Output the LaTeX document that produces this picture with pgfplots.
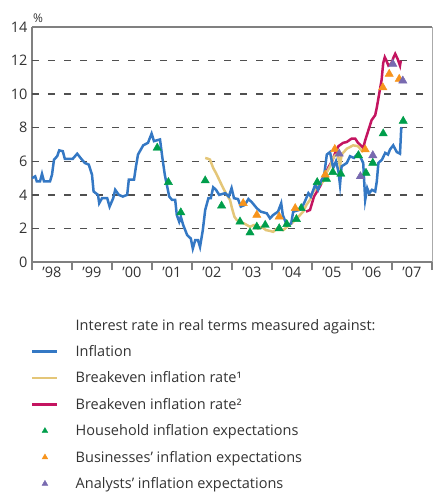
\documentclass[border=0pt]{standalone}
\usepackage{pgfplots}
\pgfplotsset{compat=1.18}
\usepackage{fontspec}
\setmainfont{Open Sans}
\definecolor{cblue}{RGB}{52,120,196}
\definecolor{cyellow}{RGB}{228,198,120}
\definecolor{cmag}{RGB}{196,20,96}
\definecolor{cgreen}{RGB}{0,158,75}
\definecolor{corange}{RGB}{247,148,29}
\definecolor{cpurple}{RGB}{120,106,176}
\definecolor{cgrid}{RGB}{80,80,80}
\definecolor{caxis}{RGB}{128,128,128}
\definecolor{cright}{RGB}{170,170,170}
\pgfplotsset{
  lineleg/.style={legend image code/.code={\draw[##1] (0pt,0pt) -- (25pt,0pt);}},
  markleg/.style={legend image code/.code={\draw[##1, mark size=3.3pt] plot coordinates {(12.5pt,0pt)};}},
  gridline/.style={cgrid, line width=1.3pt, dash pattern=on 7pt off 9pt, forget plot},
}
\begin{document}
\begin{tikzpicture}
\path[use as bounding box] (0pt,0pt) rectangle (433pt,492pt);
\begin{axis}[
  at={(32pt,230pt)}, anchor=south west,
  scale only axis, width=400pt, height=235pt,
  xmin=1998, xmax=2008, ymin=0, ymax=14,
  axis x line*=bottom, axis y line*=left,
  axis line style={caxis, line width=1.5pt, -},
  ytick={0,2,...,14},
  xtick={1998.5,1999.5,...,2007.5},
  xticklabels={’98,’99,’00,’01,’02,’03,’04,’05,’06,’07},
  minor xtick={1998,1999,...,2008},
  major tick length=0pt, minor tick length=8pt, tick align=outside,
  minor tick style={caxis, line width=1.2pt},
  tick label style={font=\fontsize{14.5}{16}\selectfont, text=black!80},
  /pgf/number format/assume math mode=true,
  yticklabel style={xshift=-1pt},
  xticklabel style={yshift=-1pt},
  clip=false,
  legend cell align=left,
  legend style={draw=none, fill=none, at={(axis description cs:-0.01,-0.225)}, anchor=north west,
    font=\fontsize{14.5}{17}\selectfont, text=black!80,
    row sep=9.8pt,
    /tikz/every odd column/.append style={column sep=15pt}},
]
\node[anchor=south west, inner sep=0pt, font=\fontsize{12}{14}\selectfont, text=black!80] at ([xshift=1pt,yshift=4pt]rel axis cs:0,1) {\%};

% dashed grid lines and the top and right frame
\addplot[gridline] coordinates {(1998,2)(2008,2)};
\addplot[gridline] coordinates {(1998,4)(2008,4)};
\addplot[gridline] coordinates {(1998,6)(2008,6)};
\addplot[gridline] coordinates {(1998,8)(2008,8)};
\addplot[gridline] coordinates {(1998,10)(2008,10)};
\addplot[gridline] coordinates {(1998,12)(2008,12)};
\addplot[caxis, line width=1.5pt, forget plot] coordinates {(1998,14)(2008,14)};
\addplot[cright, line width=1pt, forget plot] coordinates {(2008,0)(2008,14)};

\addlegendimage{empty legend}
\addlegendentry{Interest rate in real terms measured against:}

\addplot[cmag, line width=2.5pt, forget plot] coordinates {
(2004.85,3.0)(2004.95,3.1)(2005.05,3.9)(2005.20,4.5)(2005.30,5.0)(2005.40,5.6)(2005.50,6.0)
(2005.58,6.5)(2005.66,6.9)(2005.78,7.1)(2005.87,7.15)(2005.99,7.35)(2006.08,7.35)(2006.15,7.1)
(2006.22,6.95)(2006.28,6.8)(2006.33,7.25)(2006.41,7.85)(2006.49,8.45)(2006.58,8.75)(2006.62,9.2)
(2006.66,9.75)(2006.70,10.3)(2006.74,10.85)(2006.78,11.85)(2006.82,12.2)(2006.86,12.0)(2006.91,11.7)
(2006.98,11.8)(2007.04,12.2)(2007.08,12.4)(2007.14,12.1)(2007.20,11.7)(2007.22,12.0)
};

\addplot[cyellow, line width=2.5pt, forget plot] coordinates {
(2002.33,6.2)(2002.40,6.15)(2002.45,6.1)(2002.53,5.6)(2002.60,5.3)(2002.66,5.0)(2002.72,4.7)
(2002.78,4.4)(2002.87,4.0)(2002.95,3.7)(2003.00,3.2)(2003.06,2.7)(2003.12,2.5)(2003.20,2.4)
(2003.30,2.3)(2003.45,2.1)(2003.55,2.2)(2003.65,2.0)(2003.74,2.1)(2003.85,1.9)(2003.95,1.85)
(2004.03,1.8)(2004.13,2.0)(2004.28,1.9)(2004.38,2.1)(2004.49,2.3)(2004.58,2.5)(2004.70,2.8)
(2004.78,3.0)(2004.86,3.4)(2004.95,3.7)(2005.03,4.2)(2005.15,4.5)(2005.28,4.8)(2005.36,5.3)
(2005.45,5.7)(2005.53,6.2)(2005.58,6.35)(2005.64,6.45)(2005.70,5.7)(2005.74,6.4)(2005.87,6.75)
(2005.95,6.85)(2006.03,6.95)(2006.15,6.9)(2006.22,6.7)(2006.28,6.55)
};

\addplot[cblue, line width=2.5pt, forget plot] coordinates {
(1998.00,5.0)(1998.08,5.1)(1998.12,4.8)(1998.20,4.8)(1998.25,5.25)(1998.30,4.8)(1998.45,4.8)
(1998.50,5.2)(1998.55,6.1)(1998.63,6.3)(1998.68,6.65)(1998.77,6.6)(1998.82,6.15)(1999.02,6.15)
(1999.13,6.45)(1999.23,6.15)(1999.32,5.9)(1999.42,5.8)(1999.50,5.2)(1999.54,4.2)(1999.65,4.0)
(1999.68,3.5)(1999.75,3.8)(1999.88,3.8)(1999.94,3.3)(2000.03,3.8)(2000.08,4.3)(2000.17,4.0)
(2000.27,3.9)(2000.38,4.0)(2000.42,4.9)(2000.55,4.9)(2000.60,5.7)(2000.65,6.4)(2000.78,6.95)
(2000.90,7.1)(2000.99,7.65)(2001.05,7.2)(2001.20,7.3)(2001.26,6.2)(2001.32,5.2)(2001.43,3.9)
(2001.50,3.7)(2001.58,3.7)(2001.62,2.8)(2001.68,2.4)(2001.72,2.7)(2001.78,2.2)(2001.88,1.6)
(2001.97,1.4)(2002.02,0.8)(2002.08,1.3)(2002.15,1.3)(2002.20,0.9)(2002.27,1.9)(2002.33,3.1)
(2002.41,3.8)(2002.47,3.8)(2002.53,4.45)(2002.60,4.3)(2002.68,4.0)(2002.83,4.1)(2002.92,3.9)
(2002.99,4.4)(2003.05,3.8)(2003.15,3.75)(2003.22,3.3)(2003.32,3.4)(2003.41,3.75)(2003.50,3.55)
(2003.62,3.2)(2003.72,3.0)(2003.87,2.9)(2003.95,2.6)(2004.03,2.8)(2004.15,3.0)(2004.23,3.5)
(2004.27,2.8)(2004.37,2.2)(2004.48,2.3)(2004.53,3.0)(2004.68,3.1)(2004.74,3.2)(2004.82,3.6)
(2004.91,4.1)(2004.97,3.9)(2005.08,4.6)(2005.15,4.3)(2005.24,4.9)(2005.30,5.1)(2005.37,6.4)
(2005.45,6.55)(2005.53,5.6)(2005.60,6.0)(2005.66,5.4)(2005.70,4.6)(2005.74,5.7)(2005.87,5.9)
(2005.95,6.3)(2006.05,6.2)(2006.16,6.5)(2006.22,6.2)(2006.28,5.9)(2006.33,3.7)(2006.38,4.4)
(2006.43,4.1)(2006.50,4.3)(2006.58,4.2)(2006.62,4.8)(2006.66,5.9)(2006.75,6.1)(2006.83,6.5)
(2006.90,6.4)(2006.95,6.7)(2007.03,6.95)(2007.12,6.55)(2007.20,6.45)(2007.23,7.95)(2007.25,8.0)
};

\addlegendimage{cblue, line width=2.5pt, lineleg}
\addlegendentry{Inflation}
\addlegendimage{cyellow, line width=2.5pt, lineleg}
\addlegendentry{Breakeven inflation rate¹}
\addlegendimage{cmag, line width=2.5pt, lineleg}
\addlegendentry{Breakeven inflation rate²}

\addplot[only marks, mark=triangle*, mark size=4.8pt, color=cgreen, markleg] coordinates {
(2001.13,6.8)(2001.41,4.75)(2001.72,2.95)(2002.33,4.85)(2002.74,3.35)(2003.20,2.4)(2003.45,1.75)
(2003.62,2.1)(2003.83,2.2)(2004.18,2.0)(2004.37,2.25)(2004.61,2.55)(2004.73,3.2)(2005.13,4.75)
(2005.36,4.95)(2005.52,5.35)(2005.72,5.25)(2006.16,6.35)(2006.35,5.3)(2006.52,5.9)(2006.78,7.65)
(2007.28,8.4)
};
\addlegendentry{Household inflation expectations}

\addplot[only marks, mark=triangle*, mark size=4.8pt, color=corange, markleg] coordinates {
(2003.28,3.5)(2003.62,2.8)(2004.18,2.7)(2004.58,3.2)(2005.33,5.2)(2005.57,6.72)(2006.33,6.7)
(2006.77,10.4)(2006.93,11.2)(2007.18,10.9)
};
\addlegendentry{Businesses' inflation expectations}

\addplot[only marks, mark=triangle*, mark size=4.8pt, color=cpurple, markleg] coordinates {
(2005.68,6.45)(2006.21,5.1)(2006.52,6.35)(2007.02,11.8)(2007.27,10.8)
};
\addlegendentry{Analysts' inflation expectations}
\end{axis}
\end{tikzpicture}
\end{document}
